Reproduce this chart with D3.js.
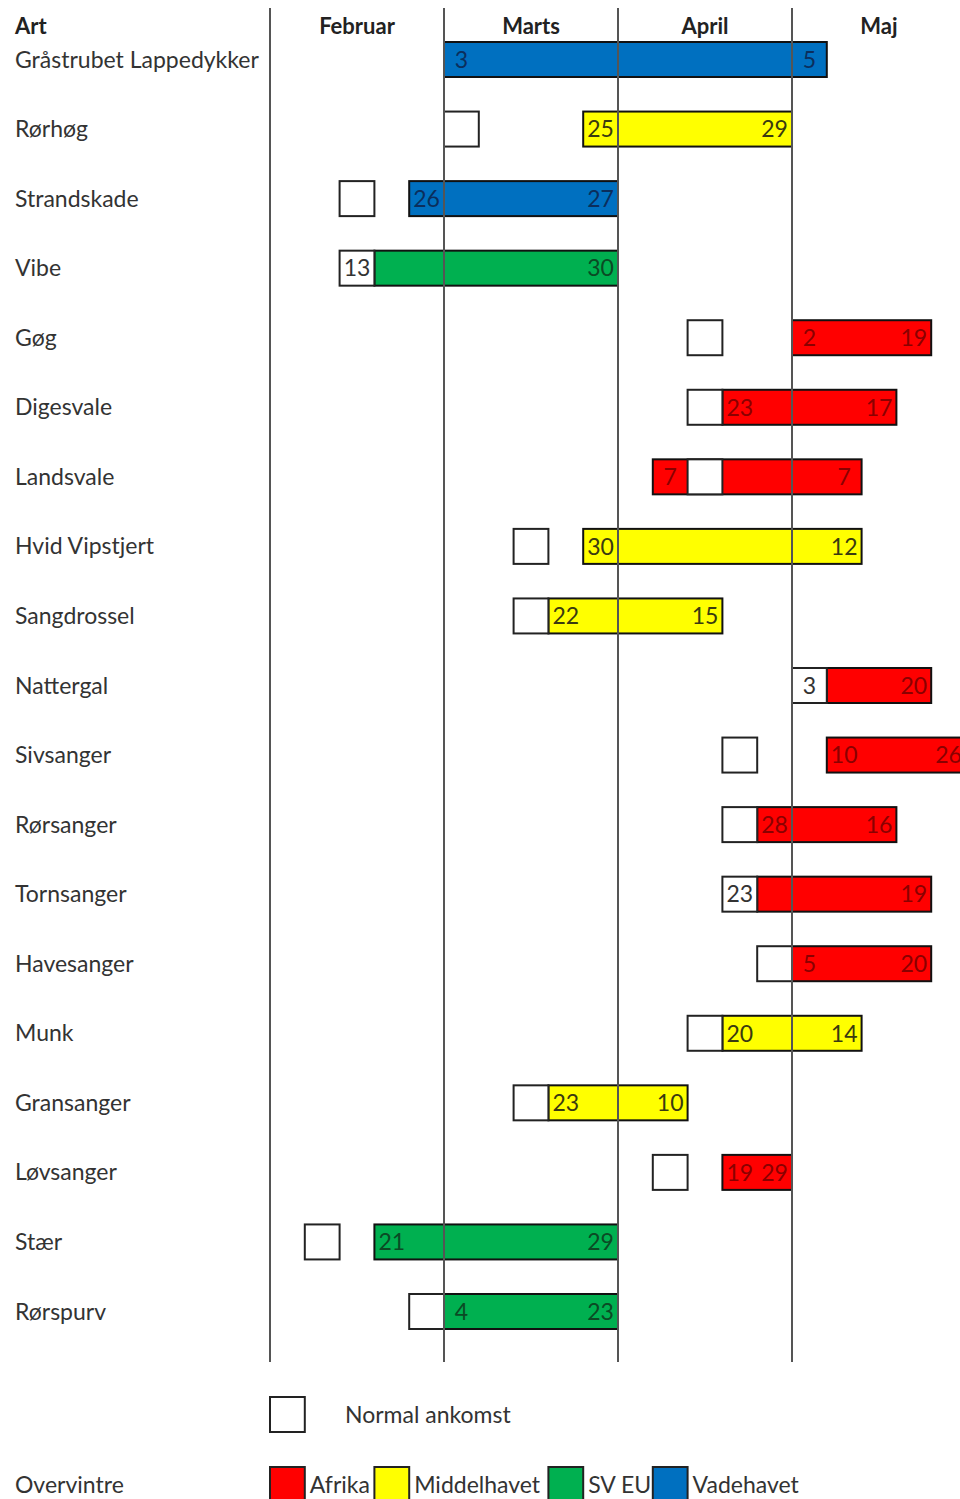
<!DOCTYPE html>
<html>
<head>
<meta charset="utf-8">
<script src="https://cdn.jsdelivr.net/npm/d3@7/dist/d3.min.js"></script>
<style>
  html, body { margin: 0; padding: 0; background: #fff; }
  svg { display: block; }
  text { font-family: Lato, "Open Sans", sans-serif; }
</style>
</head>
<body>
<svg id="chart" width="960" height="1499"></svg>
<script>
// ---------- DATA ----------
const months = ["Februar", "Marts", "April", "Maj"];
const species = ["Gråstrubet Lappedykker", "Rørhøg", "Strandskade", "Vibe", "Gøg", "Digesvale",
  "Landsvale", "Hvid Vipstjert", "Sangdrossel", "Nattergal", "Sivsanger", "Rørsanger",
  "Tornsanger", "Havesanger", "Munk", "Gransanger", "Løvsanger", "Stær", "Rørspurv"];
// periods: 5 per month, 0 = first period of Februar
const normalPeriod = [null, 5, 2, 2, 12, 12, 12, 7, 7, 15, 13, 13, 13, 14, 12, 7, 11, 1, 4];
const firstPeriod  = [5, 9, 4, 3, 15, 13, 11, 9, 8, 16, 16, 14, 14, 15, 13, 8, 13, 3, 5];
const lastPeriod   = [15, 14, 9, 9, 18, 17, 16, 16, 12, 18, 19, 17, 18, 18, 16, 11, 14, 9, 9];
const region = ["Vadehavet", "Middelhavet", "Vadehavet", "SV EU", "Afrika", "Afrika", "Afrika",
  "Middelhavet", "Middelhavet", "Afrika", "Afrika", "Afrika", "Afrika", "Afrika", "Middelhavet",
  "Middelhavet", "Afrika", "SV EU", "SV EU"];
const firstDay = ["3", "25", "26", "13", "2", "23", "7", "30", "22", "3", "10", "28", "23", "5", "20", "23", "19", "21", "4"];
const firstDayInNormal = [false, false, false, true, false, false, false, false, false, true, false, false, true, false, false, false, false, false, false];
const lastDay  = ["5", "29", "27", "30", "19", "17", "7", "12", "15", "20", "26", "16", "19", "20", "14", "10", "29", "29", "23"];
const regions = ["Afrika", "Middelhavet", "SV EU", "Vadehavet"];
const regionFill = ["#ff0000", "#ffff00", "#00b050", "#0070c0"];
const regionText = ["#8a0000", "#3a3a10", "#0b4a24", "#0b2e5c"];

// ---------- LAYOUT ----------
const svg = d3.select("#chart");
const x = d3.scaleLinear().domain([0, 20]).range([270, 966]);
const y = d3.scaleBand().domain(species.map((d, i) => i)).range([42, 1329]).paddingInner(0.4968).paddingOuter(0);
const fillScale = d3.scaleOrdinal().domain(regions).range(regionFill);
const textScale = d3.scaleOrdinal().domain(regions).range(regionText);
const cw = x(1) - x(0);
const bh = y.bandwidth();

const rows = species.map((s, i) => ({
  name: s, i, normal: normalPeriod[i], first: firstPeriod[i], last: lastPeriod[i],
  region: region[i], fd: firstDay[i], fdN: firstDayInNormal[i], ld: lastDay[i]
}));

// species names
svg.append("text").attr("x", 15).attr("y", 26).attr("dy", "0.35em")
  .attr("font-size", 22).attr("font-weight", 700).attr("fill", "#222").text("Art");
svg.selectAll(".sp").data(rows).enter().append("text")
  .attr("x", 15).attr("y", d => y(d.i) + bh / 2).attr("dy", "0.35em")
  .attr("font-size", 23).attr("fill", "#333").text(d => d.name);

// month headers
svg.selectAll(".mh").data(months).enter().append("text")
  .attr("x", (d, i) => x(i * 5 + 2.5)).attr("y", 26).attr("dy", "0.35em")
  .attr("text-anchor", "middle").attr("font-size", 22).attr("font-weight", 700).attr("fill", "#222")
  .text(d => d);

// bars
const g = svg.append("g");
g.selectAll(".bar").data(rows).enter().append("rect")
  .attr("x", d => x(d.first)).attr("y", d => y(d.i))
  .attr("width", d => x(d.last + 1) - x(d.first)).attr("height", bh)
  .attr("fill", d => fillScale(d.region)).attr("stroke", "#111").attr("stroke-width", 2);

// normal arrival boxes
g.selectAll(".nb").data(rows.filter(d => d.normal !== null)).enter().append("rect")
  .attr("x", d => x(d.normal)).attr("y", d => y(d.i))
  .attr("width", cw).attr("height", bh)
  .attr("fill", "#fff").attr("stroke", "#222").attr("stroke-width", 2);

// month grid lines (on top)
svg.selectAll(".grid").data(d3.range(4)).enter().append("line")
  .attr("x1", d => x(d * 5)).attr("x2", d => x(d * 5))
  .attr("y1", 8).attr("y2", 1362)
  .attr("stroke", "#555").attr("stroke-width", 2);

// labels
g.selectAll(".fl").data(rows).enter().append("text")
  .attr("x", d => x((d.fdN ? d.normal : d.first) + 0.5))
  .attr("y", d => y(d.i) + bh / 2).attr("dy", "0.36em")
  .attr("text-anchor", "middle").attr("font-size", 23)
  .attr("fill", d => d.fdN ? "#333" : textScale(d.region))
  .text(d => d.fd);
g.selectAll(".ll").data(rows).enter().append("text")
  .attr("x", d => x(d.last + 0.5))
  .attr("y", d => y(d.i) + bh / 2).attr("dy", "0.36em")
  .attr("text-anchor", "middle").attr("font-size", 23)
  .attr("fill", d => textScale(d.region))
  .text(d => d.ld);

// legend
const leg = svg.append("g");
leg.append("rect").attr("x", x(0)).attr("y", 1397).attr("width", cw).attr("height", bh)
  .attr("fill", "#fff").attr("stroke", "#222").attr("stroke-width", 2);
leg.append("text").attr("x", 345).attr("y", 1415).attr("dy", "0.35em")
  .attr("font-size", 23).attr("fill", "#333").text("Normal ankomst");
leg.append("text").attr("x", 15).attr("y", 1485).attr("dy", "0.35em")
  .attr("font-size", 23).attr("fill", "#333").text("Overvintre");
const legCells = [0, 3, 8, 11];
regions.forEach((r, i) => {
  leg.append("rect").attr("x", x(legCells[i])).attr("y", 1467).attr("width", cw).attr("height", bh)
    .attr("fill", fillScale(r)).attr("stroke", "#222").attr("stroke-width", 2);
  leg.append("text").attr("x", x(legCells[i] + 1) + 5).attr("y", 1485).attr("dy", "0.35em")
    .attr("font-size", 23).attr("fill", "#333").text(r);
});
</script>
</body>
</html>
